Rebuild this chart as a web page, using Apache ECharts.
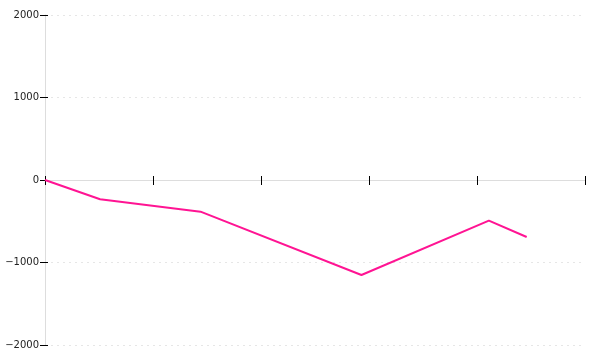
<!DOCTYPE html>
<html><head><meta charset="utf-8">
<script src="https://cdn.jsdelivr.net/npm/echarts@6/dist/echarts.min.js"></script>
<style>html,body{margin:0;padding:0;background:#fff}#c{width:600px;height:360px}</style>
</head><body><div id="c"></div>
<script>
var xValues = [0, 0.51, 1.44, 2.93, 4.11, 4.46];
var yValues = [0, -234, -384, -1152, -493, -691];
var yTicks = [-2000, -1000, 0, 1000, 2000];

var data = xValues.map(function (x, i) { return [x, yValues[i]]; });
var chart = echarts.init(document.getElementById('c'), null, {renderer: 'canvas'});
var tickStyle = {color: '#000', width: 1};
chart.setOption({
  animation: false,
  grid: {left: 45, right: 15, top: 15, bottom: 15},
  xAxis: [{
    type: 'value', min: 0, max: 5, interval: 1,
    axisLine: {show: true, onZero: true, lineStyle: {color: '#ddd'}},
    axisTick: {show: true, length: 5, lineStyle: tickStyle},
    axisLabel: {show: false}, splitLine: {show: false}
  }, {
    type: 'value', min: 0, max: 5, interval: 1, position: 'bottom',
    axisLine: {show: false, onZero: true},
    axisTick: {show: true, inside: true, length: 4, lineStyle: tickStyle},
    axisLabel: {show: false}, splitLine: {show: false}
  }],
  yAxis: [{
    type: 'value', min: yTicks[0], max: yTicks[yTicks.length - 1], interval: 1000,
    axisLine: {show: true, lineStyle: {color: '#ddd'}},
    axisTick: {show: true, length: 5, lineStyle: tickStyle},
    axisLabel: {color: '#222', fontFamily: 'DejaVu Sans', fontSize: 10, margin: 6,
      formatter: function (v) { return v < 0 ? '\u2212' + Math.abs(v) : String(v); }},
    splitLine: {show: true, lineStyle: {color: '#e6e6e6', type: [2, 4]}}
  }, {
    type: 'value', min: yTicks[0], max: yTicks[yTicks.length - 1], interval: 1000, position: 'left',
    axisLine: {show: false},
    axisTick: {show: true, inside: true, length: 3, lineStyle: tickStyle},
    axisLabel: {show: false}, splitLine: {show: false}
  }],
  series: [{
    type: 'line', data: data, showSymbol: false, symbol: 'none',
    lineStyle: {color: '#ff1493', width: 2}
  }]
});
</script></body></html>
